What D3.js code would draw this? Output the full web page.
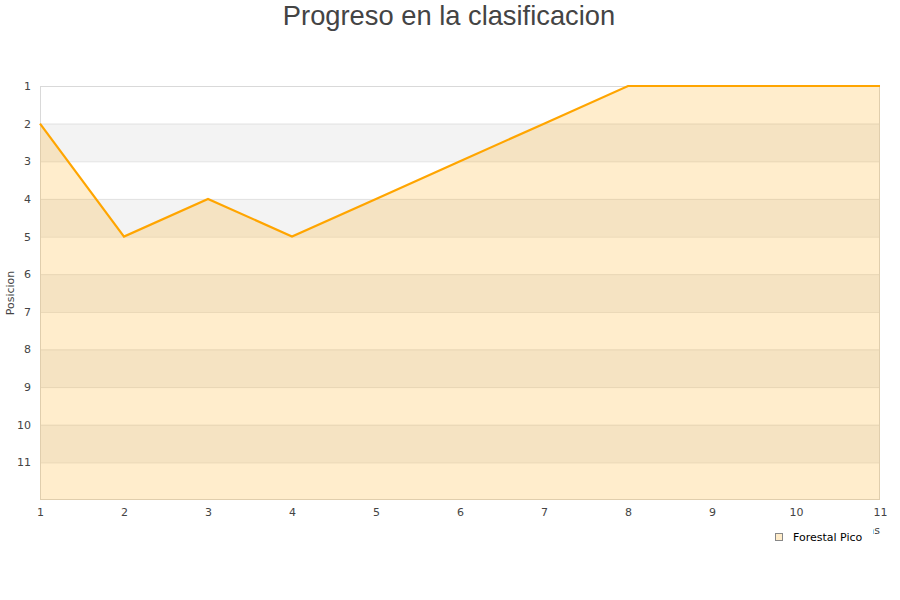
<!DOCTYPE html>
<html><head><meta charset="utf-8">
<script src="https://cdn.jsdelivr.net/npm/d3@7"></script>
<style>body{margin:0;background:#fff}svg{display:block;font-family:"DejaVu Sans",sans-serif}</style>
</head><body><svg id="c" width="900" height="600"></svg>
<script>
const jornadas = [1,2,3,4,5,6,7,8,9,10,11];
const posiciones = [2,5,4,5,4,3,2,1,1,1,1];
const yTicks = [1,2,3,4,5,6,7,8,9,10,11];
const seriesName = "Forestal Pico";
const titleText = "Progreso en la clasificacion";
const yTitle = "Posicion";
const xTitle = "Jornadas";

const svg = d3.select("#c");
const L=40,R=880,T=86,B=500;
const x = d3.scaleLinear().domain([1,11]).range([L,R]);
const y = d3.scaleLinear().domain([1,12]).range([T,B]);

// bands
const bandEdges = d3.range(1,12);
svg.selectAll("rect.band").data(bandEdges).enter().append("rect")
  .attr("x",L).attr("width",R-L)
  .attr("y",d=>y(d)).attr("height",d=>y(d+1)-y(d))
  .attr("fill",d=>d%2===0?"#f3f3f3":"#ffffff");
// grid lines
svg.selectAll("line.grid").data(yTicks).enter().append("line")
  .attr("x1",L).attr("x2",R).attr("y1",d=>y(d)+0.5).attr("y2",d=>y(d)+0.5)
  .attr("stroke","#e2e2e2");
// border
svg.append("rect").attr("x",L+0.5).attr("y",T+0.5).attr("width",R-L-1).attr("height",B-T-1)
  .attr("fill","none").attr("stroke","#d9d9d9");

const pts = jornadas.map((j,i)=>[j,posiciones[i]]);
const area = d3.area().x(d=>x(d[0])).y0(B).y1(d=>y(d[1]));
svg.append("path").datum(pts).attr("d",area).attr("fill","#ffa500").attr("fill-opacity",0.2);
const line = d3.line().x(d=>x(d[0])).y(d=>y(d[1]));
svg.append("path").datum(pts).attr("d",line).attr("fill","none").attr("stroke","#ffa500").attr("stroke-width",2.2);

// y axis labels
svg.append("g").attr("transform",`translate(${L-9},0)`)
  .call(d3.axisLeft(y).tickValues(yTicks).tickSize(0).tickPadding(0).tickFormat(d3.format("d")))
  .call(g=>g.select(".domain").remove())
  .call(g=>g.selectAll("text").attr("fill","#444").attr("font-size","11px").attr("font-family","DejaVu Sans, sans-serif"));
// x axis labels
svg.append("g").attr("transform",`translate(0,${B+8})`)
  .call(d3.axisBottom(x).tickValues(jornadas).tickSize(0).tickPadding(0).tickFormat(d3.format("d")))
  .call(g=>g.select(".domain").remove())
  .call(g=>g.selectAll("text").attr("fill","#444").attr("font-size","11px").attr("font-family","DejaVu Sans, sans-serif"));

// titles
svg.append("text").attr("x",449).attr("y",25).attr("text-anchor","middle")
  .attr("font-family","Liberation Sans, Arial, sans-serif")
  .attr("font-size","27.3px").attr("fill","#444").text(titleText);
svg.append("text").attr("transform",`translate(14,${(T+B)/2}) rotate(-90)`).attr("text-anchor","middle")
  .attr("font-size","11px").attr("fill","#444").text(yTitle);
svg.append("text").attr("x",880).attr("y",534).attr("text-anchor","end")
  .attr("font-size","11px").attr("fill","#444").text(xTitle);

// legend
const lg = svg.append("g");
lg.append("rect").attr("x",766).attr("y",524).attr("width",107).attr("height",22).attr("fill","#fff");
lg.append("rect").attr("x",775.5).attr("y",533.5).attr("width",7).attr("height",7)
  .attr("fill","#ffecc9").attr("stroke","#888");
lg.append("text").attr("x",793).attr("y",541).attr("font-size","11px").attr("fill","#000").text(seriesName);
</script></body></html>
